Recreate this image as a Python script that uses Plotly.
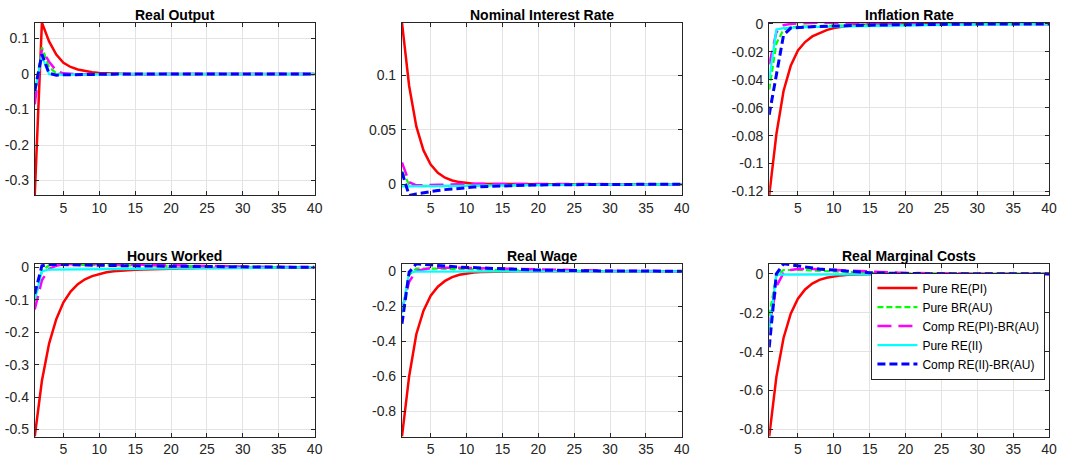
import plotly.graph_objects as go

# Impulse responses over 40 periods for five model variants
periods = list(range(1, 41))

series_names = ["Pure RE(PI)", "Pure BR(AU)", "Comp RE(PI)-BR(AU)", "Pure RE(II)", "Comp RE(II)-BR(AU)"]
panel_titles = ["Real Output", "Nominal Interest Rate", "Inflation Rate",
                "Hours Worked", "Real Wage", "Real Marginal Costs"]

# ---- Real Output ----
ro_pure_re_pi = [-0.342, 0.145, 0.092, 0.055, 0.032, 0.020, 0.013, 0.008, 0.005, 0.003,
                 0.002, 0.0012, 0.0008, 0.0005, 0.0003, 0.0002, 0.0001, 0.0, 0.0, 0.0,
                 0.0, 0.0, 0.0, 0.0, 0.0, 0.0, 0.0, 0.0, 0.0, 0.0,
                 0.0, 0.0, 0.0, 0.0, 0.0, 0.0, 0.0, 0.0, 0.0, 0.0]
ro_pure_br_au = [-0.060, 0.075, 0.020, 0.002, 0.0, -0.001, -0.0008, -0.0005, -0.0003, -0.0002,
                 -0.0001, 0.0, 0.0, 0.0, 0.0, 0.0, 0.0, 0.0, 0.0, 0.0,
                 0.0, 0.0, 0.0, 0.0, 0.0, 0.0, 0.0, 0.0, 0.0, 0.0,
                 0.0, 0.0, 0.0, 0.0, 0.0, 0.0, 0.0, 0.0, 0.0, 0.0]
ro_comp_re_pi = [-0.085, 0.068, 0.035, 0.009, 0.002, 0.0, -0.0005, -0.0003, -0.0002, -0.0001,
                 0.0, 0.0, 0.0, 0.0, 0.0, 0.0, 0.0, 0.0, 0.0, 0.0,
                 0.0, 0.0, 0.0, 0.0, 0.0, 0.0, 0.0, 0.0, 0.0, 0.0,
                 0.0, 0.0, 0.0, 0.0, 0.0, 0.0, 0.0, 0.0, 0.0, 0.0]
ro_pure_re_ii = [-0.050, 0.050, 0.0, -0.002, -0.002, -0.0015, -0.001, -0.001, -0.0005, -0.0003,
                 -0.0002, -0.0001, 0.0, 0.0, 0.0, 0.0, 0.0, 0.0, 0.0, 0.0,
                 0.0, 0.0, 0.0, 0.0, 0.0, 0.0, 0.0, 0.0, 0.0, 0.0,
                 0.0, 0.0, 0.0, 0.0, 0.0, 0.0, 0.0, 0.0, 0.0, 0.0]
ro_comp_re_ii = [-0.048, 0.056, 0.002, -0.003, -0.002, -0.0015, -0.001, -0.0008, -0.0005, -0.0003,
                 -0.0002, -0.0001, 0.0, 0.0, 0.0, 0.0, 0.0, 0.0, 0.0, 0.0,
                 0.0, 0.0, 0.0, 0.0, 0.0, 0.0, 0.0, 0.0, 0.0, 0.0,
                 0.0, 0.0, 0.0, 0.0, 0.0, 0.0, 0.0, 0.0, 0.0, 0.0]

# ---- Nominal Interest Rate ----
ni_pure_re_pi = [0.148, 0.090, 0.053, 0.031, 0.018, 0.0105, 0.006, 0.0035, 0.002, 0.0011,
                 0.0006, 0.0003, 0.0002, 0.0001, 0.0, 0.0, 0.0, 0.0, 0.0, 0.0,
                 0.0, 0.0, 0.0, 0.0, 0.0, 0.0, 0.0, 0.0, 0.0, 0.0,
                 0.0, 0.0, 0.0, 0.0, 0.0, 0.0, 0.0, 0.0, 0.0, 0.0]
ni_pure_br_au = [0.012, 0.0, -0.0015, -0.0018, -0.0018, -0.0017, -0.0016, -0.0015, -0.0014, -0.0013,
                 -0.0012, -0.0011, -0.001, -0.0009, -0.0008, -0.0007, -0.0006, -0.0005, -0.0005, -0.0004,
                 -0.0004, -0.0003, -0.0003, -0.0003, -0.0002, -0.0002, -0.0002, -0.0002, -0.0001, -0.0001,
                 -0.0001, -0.0001, -0.0001, 0.0, 0.0, 0.0, 0.0, 0.0, 0.0, 0.0]
ni_comp_re_pi = [0.020, 0.002, -0.001, -0.001, -0.0008, -0.0005, -0.0003, 0.0, 0.0002, 0.0003,
                 0.0004, 0.0004, 0.0004, 0.0004, 0.0003, 0.0003, 0.0003, 0.0002, 0.0002, 0.0002,
                 0.0002, 0.0001, 0.0001, 0.0001, 0.0001, 0.0001, 0.0, 0.0, 0.0, 0.0,
                 0.0, 0.0, 0.0, 0.0, 0.0, 0.0, 0.0, 0.0, 0.0, 0.0]
ni_pure_re_ii = [-0.002, -0.002, -0.002, -0.002, -0.0019, -0.0018, -0.0017, -0.0016, -0.0015, -0.0014,
                 -0.0013, -0.0012, -0.0011, -0.001, -0.0009, -0.0008, -0.0007, -0.0007, -0.0006, -0.0005,
                 -0.0005, -0.0004, -0.0004, -0.0003, -0.0003, -0.0003, -0.0002, -0.0002, -0.0002, -0.0002,
                 -0.0001, -0.0001, -0.0001, -0.0001, -0.0001, 0.0, 0.0, 0.0, 0.0, 0.0]
ni_comp_re_ii = [0.011, -0.0102, -0.0088, -0.0076, -0.0066, -0.0057, -0.0049, -0.0042, -0.0036, -0.0031,
                 -0.0026, -0.0022, -0.0019, -0.0016, -0.0013, -0.0011, -0.0009, -0.0008, -0.0007, -0.0006,
                 -0.0005, -0.0004, -0.0004, -0.0003, -0.0003, -0.0002, -0.0002, -0.0002, -0.0001, -0.0001,
                 -0.0001, -0.0001, -0.0001, 0.0, 0.0, 0.0, 0.0, 0.0, 0.0, 0.0]

# ---- Inflation Rate ----
inf_pure_re_pi = [-0.1228, -0.079, -0.048, -0.030, -0.019, -0.013, -0.009, -0.0065, -0.0045, -0.003,
                  -0.002, -0.0014, -0.001, -0.0007, -0.0005, -0.0003, -0.0002, -0.0001, 0.0, 0.0,
                  0.0, 0.0, 0.0, 0.0, 0.0, 0.0, 0.0, 0.0, 0.0, 0.0,
                  0.0, 0.0, 0.0, 0.0, 0.0, 0.0, 0.0, 0.0, 0.0, 0.0]
inf_pure_br_au = [-0.047, -0.014, -0.004, -0.0025, -0.002, -0.0018, -0.0016, -0.0015, -0.0014, -0.0013,
                  -0.0012, -0.0011, -0.001, -0.0009, -0.0009, -0.0008, -0.0007, -0.0007, -0.0006, -0.0006,
                  -0.0005, -0.0005, -0.0004, -0.0004, -0.0004, -0.0003, -0.0003, -0.0003, -0.0002, -0.0002,
                  -0.0002, -0.0002, -0.0001, -0.0001, -0.0001, -0.0001, -0.0001, 0.0, 0.0, 0.0]
inf_comp_re_pi = [-0.029, -0.006, -0.001, 0.0, 0.0004, 0.0007, 0.0009, 0.0009, 0.0008, 0.0007,
                  0.0006, 0.0005, 0.0004, 0.0004, 0.0003, 0.0003, 0.0002, 0.0002, 0.0002, 0.0001,
                  0.0001, 0.0001, 0.0001, 0.0, 0.0, 0.0, 0.0, 0.0, 0.0, 0.0,
                  0.0, 0.0, 0.0, 0.0, 0.0, 0.0, 0.0, 0.0, 0.0, 0.0]
inf_pure_re_ii = [-0.040, -0.004, -0.003, -0.0027, -0.0025, -0.0024, -0.0022, -0.0021, -0.002, -0.0019,
                  -0.0018, -0.0017, -0.0016, -0.0015, -0.0014, -0.0013, -0.0012, -0.0011, -0.001, -0.001,
                  -0.0009, -0.0008, -0.0008, -0.0007, -0.0007, -0.0006, -0.0006, -0.0005, -0.0005, -0.0004,
                  -0.0004, -0.0004, -0.0003, -0.0003, -0.0003, -0.0003, -0.0002, -0.0002, -0.0002, -0.0002]
inf_comp_re_ii = [-0.065, -0.037, -0.008, -0.003, -0.0025, -0.0022, -0.002, -0.0018, -0.0016, -0.0015,
                  -0.0013, -0.0012, -0.0011, -0.001, -0.0009, -0.0008, -0.0008, -0.0007, -0.0006, -0.0006,
                  -0.0005, -0.0005, -0.0004, -0.0004, -0.0003, -0.0003, -0.0003, -0.0002, -0.0002, -0.0002,
                  -0.0002, -0.0001, -0.0001, -0.0001, -0.0001, -0.0001, 0.0, 0.0, 0.0, 0.0]

# ---- Hours Worked ----
hw_pure_re_pi = [-0.522, -0.350, -0.235, -0.160, -0.108, -0.075, -0.052, -0.037, -0.027, -0.020,
                 -0.015, -0.012, -0.010, -0.0085, -0.0075, -0.0066, -0.0058, -0.0051, -0.0045, -0.004,
                 -0.0035, -0.0031, -0.0027, -0.0024, -0.0021, -0.0018, -0.0016, -0.0014, -0.0012, -0.001,
                 -0.0009, -0.0008, -0.0007, -0.0006, -0.0005, -0.0004, -0.0003, -0.0003, -0.0002, -0.0002]
hw_pure_br_au = [-0.105, -0.010, 0.006, 0.008, 0.008, 0.0078, 0.0075, 0.0072, 0.0068, 0.0064,
                 0.006, 0.0056, 0.0052, 0.0048, 0.0045, 0.0042, 0.0039, 0.0036, 0.0033, 0.003,
                 0.0028, 0.0026, 0.0024, 0.0022, 0.002, 0.0018, 0.0016, 0.0015, 0.0013, 0.0012,
                 0.0011, 0.001, 0.0009, 0.0008, 0.0007, 0.0006, 0.0005, 0.0004, 0.0004, 0.0003]
hw_comp_re_pi = [-0.130, -0.040, -0.005, 0.005, 0.009, 0.0105, 0.011, 0.011, 0.011, 0.0105,
                 0.010, 0.0095, 0.009, 0.0085, 0.008, 0.0075, 0.007, 0.0065, 0.006, 0.0055,
                 0.005, 0.0046, 0.0042, 0.0038, 0.0034, 0.0031, 0.0028, 0.0025, 0.0022, 0.002,
                 0.0018, 0.0016, 0.0014, 0.0012, 0.0011, 0.001, 0.0009, 0.0008, 0.0007, 0.0006]
hw_pure_re_ii = [-0.100, -0.012, -0.007, -0.007, -0.0069, -0.0068, -0.0067, -0.0066, -0.0064, -0.0062,
                 -0.006, -0.0058, -0.0056, -0.0053, -0.005, -0.0047, -0.0044, -0.0041, -0.0038, -0.0035,
                 -0.0032, -0.0029, -0.0026, -0.0023, -0.002, -0.0018, -0.0016, -0.0014, -0.0012, -0.001,
                 -0.0009, -0.0008, -0.0007, -0.0006, -0.0005, -0.0004, -0.0003, -0.0002, -0.0001, 0.0]
hw_comp_re_ii = [-0.082, 0.005, 0.009, 0.0088, 0.0085, 0.008, 0.0076, 0.0072, 0.0068, 0.0064,
                 0.006, 0.0056, 0.0052, 0.0048, 0.0045, 0.0042, 0.0039, 0.0036, 0.0033, 0.003,
                 0.0028, 0.0026, 0.0024, 0.0022, 0.002, 0.0018, 0.0016, 0.0015, 0.0013, 0.0012,
                 0.0011, 0.001, 0.0009, 0.0008, 0.0007, 0.0006, 0.0005, 0.0004, 0.0004, 0.0003]

# ---- Real Wage ----
rw_pure_re_pi = [-0.945, -0.600, -0.360, -0.225, -0.140, -0.088, -0.055, -0.033, -0.020, -0.012,
                 -0.007, -0.0045, -0.003, -0.002, -0.0013, -0.0008, -0.0005, -0.0003, -0.0002, -0.0001,
                 0.0, 0.0, 0.0, 0.0, 0.0, 0.0, 0.0, 0.0, 0.0, 0.0,
                 0.0, 0.0, 0.0, 0.0, 0.0, 0.0, 0.0, 0.0, 0.0, 0.0]
rw_pure_br_au = [-0.235, -0.020, 0.015, 0.016, 0.016, 0.015, 0.014, 0.013, 0.012, 0.011,
                 0.010, 0.009, 0.008, 0.007, 0.006, 0.0055, 0.005, 0.0045, 0.004, 0.0035,
                 0.003, 0.0027, 0.0024, 0.0021, 0.0018, 0.0016, 0.0014, 0.0012, 0.001, 0.0009,
                 0.0008, 0.0007, 0.0006, 0.0005, 0.0004, 0.0004, 0.0003, 0.0003, 0.0002, 0.0002]
rw_comp_re_pi = [-0.220, -0.060, 0.003, 0.012, 0.018, 0.020, 0.021, 0.021, 0.020, 0.019,
                 0.018, 0.017, 0.016, 0.015, 0.014, 0.013, 0.012, 0.011, 0.010, 0.009,
                 0.008, 0.007, 0.0062, 0.0055, 0.0048, 0.0042, 0.0037, 0.0032, 0.0028, 0.0024,
                 0.0021, 0.0018, 0.0015, 0.0013, 0.0011, 0.0009, 0.0008, 0.0007, 0.0006, 0.0005]
rw_pure_re_ii = [-0.240, -0.005, -0.002, -0.002, -0.0018, -0.0016, -0.0014, -0.0012, -0.001, -0.0009,
                 -0.0008, -0.0007, -0.0006, -0.0005, -0.0004, -0.0004, -0.0003, -0.0003, -0.0002, -0.0002,
                 -0.0002, -0.0001, -0.0001, -0.0001, -0.0001, 0.0, 0.0, 0.0, 0.0, 0.0,
                 0.0, 0.0, 0.0, 0.0, 0.0, 0.0, 0.0, 0.0, 0.0, 0.0]
rw_comp_re_ii = [-0.300, -0.005, 0.043, 0.039, 0.036, 0.033, 0.030, 0.027, 0.024, 0.022,
                 0.020, 0.018, 0.016, 0.014, 0.012, 0.011, 0.010, 0.009, 0.008, 0.007,
                 0.006, 0.005, 0.0045, 0.004, 0.0035, 0.003, 0.0027, 0.0024, 0.002, 0.0018,
                 0.0016, 0.0014, 0.0012, 0.001, 0.0009, 0.0008, 0.0007, 0.0006, 0.0005, 0.0004]

# ---- Real Marginal Costs ----
rmc_pure_re_pi = [-0.837, -0.530, -0.330, -0.205, -0.128, -0.080, -0.050, -0.031, -0.020, -0.012,
                  -0.0078, -0.005, -0.003, -0.002, -0.0012, -0.0008, -0.0005, -0.0003, -0.0002, -0.0001,
                  0.0, 0.0, 0.0, 0.0, 0.0, 0.0, 0.0, 0.0, 0.0, 0.0,
                  0.0, 0.0, 0.0, 0.0, 0.0, 0.0, 0.0, 0.0, 0.0, 0.0]
rmc_pure_br_au = [-0.215, -0.010, 0.020, 0.021, 0.020, 0.019, 0.017, 0.015, 0.013, 0.011,
                  0.0095, 0.008, 0.0068, 0.0057, 0.0048, 0.004, 0.0033, 0.0027, 0.0022, 0.0018,
                  0.0015, 0.0012, 0.001, 0.0008, 0.0007, 0.0006, 0.0005, 0.0004, 0.0003, 0.0003,
                  0.0002, 0.0002, 0.0002, 0.0001, 0.0001, 0.0001, 0.0001, 0.0, 0.0, 0.0]
rmc_comp_re_pi = [-0.270, -0.065, 0.005, 0.020, 0.025, 0.026, 0.025, 0.024, 0.022, 0.020,
                  0.018, 0.016, 0.014, 0.012, 0.0105, 0.009, 0.0078, 0.0067, 0.0057, 0.0048,
                  0.004, 0.0034, 0.0029, 0.0024, 0.002, 0.0017, 0.0014, 0.0012, 0.001, 0.0008,
                  0.0007, 0.0006, 0.0005, 0.0004, 0.0003, 0.0003, 0.0002, 0.0002, 0.0001, 0.0001]
rmc_pure_re_ii = [-0.290, -0.004, -0.004, -0.0038, -0.0035, -0.0032, -0.003, -0.0027, -0.0025, -0.0022,
                  -0.002, -0.0018, -0.0016, -0.0014, -0.0012, -0.001, -0.0009, -0.0008, -0.0007, -0.0006,
                  -0.0005, -0.0004, -0.0004, -0.0003, -0.0003, -0.0002, -0.0002, -0.0002, -0.0001, -0.0001,
                  -0.0001, -0.0001, 0.0, 0.0, 0.0, 0.0, 0.0, 0.0, 0.0, 0.0]
rmc_comp_re_ii = [-0.378, 0.0, 0.052, 0.046, 0.040, 0.034, 0.029, 0.025, 0.022, 0.019,
                  0.015, 0.012, 0.0095, 0.0075, 0.006, 0.0047, 0.0037, 0.0029, 0.0023, 0.0018,
                  0.0014, 0.0011, 0.0009, 0.0007, 0.0006, 0.0005, 0.0004, 0.0003, 0.0002, 0.0002,
                  0.0002, 0.0001, 0.0001, 0.0001, 0.0001, 0.0, 0.0, 0.0, 0.0, 0.0]

# Tick positions and labels per panel
x_tickvals = [5, 10, 15, 20, 25, 30, 35, 40]
ro_ticks = [-0.3, -0.2, -0.1, 0, 0.1]
ro_ticktext = ["-0.3", "-0.2", "-0.1", "0", "0.1"]
ni_ticks = [0, 0.05, 0.1]
ni_ticktext = ["0", "0.05", "0.1"]
inf_ticks = [-0.12, -0.1, -0.08, -0.06, -0.04, -0.02, 0]
inf_ticktext = ["-0.12", "-0.1", "-0.08", "-0.06", "-0.04", "-0.02", "0"]
hw_ticks = [-0.5, -0.4, -0.3, -0.2, -0.1, 0]
hw_ticktext = ["-0.5", "-0.4", "-0.3", "-0.2", "-0.1", "0"]
rw_ticks = [-0.8, -0.6, -0.4, -0.2, 0]
rw_ticktext = ["-0.8", "-0.6", "-0.4", "-0.2", "0"]
rmc_ticks = [-0.8, -0.6, -0.4, -0.2, 0]
rmc_ticktext = ["-0.8", "-0.6", "-0.4", "-0.2", "0"]

panels = [
    ([ro_pure_re_pi, ro_pure_br_au, ro_comp_re_pi, ro_pure_re_ii, ro_comp_re_ii], ro_ticks, ro_ticktext),
    ([ni_pure_re_pi, ni_pure_br_au, ni_comp_re_pi, ni_pure_re_ii, ni_comp_re_ii], ni_ticks, ni_ticktext),
    ([inf_pure_re_pi, inf_pure_br_au, inf_comp_re_pi, inf_pure_re_ii, inf_comp_re_ii], inf_ticks, inf_ticktext),
    ([hw_pure_re_pi, hw_pure_br_au, hw_comp_re_pi, hw_pure_re_ii, hw_comp_re_ii], hw_ticks, hw_ticktext),
    ([rw_pure_re_pi, rw_pure_br_au, rw_comp_re_pi, rw_pure_re_ii, rw_comp_re_ii], rw_ticks, rw_ticktext),
    ([rmc_pure_re_pi, rmc_pure_br_au, rmc_comp_re_pi, rmc_pure_re_ii, rmc_comp_re_ii], rmc_ticks, rmc_ticktext),
]

# Line styles per model variant
line_styles = [
    dict(color="#ff0000", width=2.5, dash="solid"),
    dict(color="#00ff00", width=2.2, dash="6px,3px"),
    dict(color="#ff00ff", width=2.5, dash="14px,7px"),
    dict(color="#00ffff", width=2.2, dash="solid"),
    dict(color="#0000ff", width=3.0, dash="8px,4px"),
]

W, H = 1069, 464
x_domains_px = [(35, 317), (405, 687), (775, 1057)]
y_domains_px = [(16, 193), (263, 440)]

FONT = "Liberation Sans, Arial, Helvetica, sans-serif"
AX_COLOR = "#262626"
GRID_COLOR = "#e3e3e3"

fig = go.Figure()
layout_updates = {}

for i, (series, yticks, yticktext) in enumerate(panels):
    row, col = divmod(i, 3)
    idx = "" if i == 0 else str(i + 1)
    xname, yname = "x" + idx, "y" + idx
    for k, vals in enumerate(series):
        fig.add_trace(go.Scatter(
            x=periods, y=vals, mode="lines", name=series_names[k],
            line=line_styles[k], xaxis=xname, yaxis=yname,
            showlegend=(i == 5), legendgroup=series_names[k],
        ))
    ymin = min(min(v) for v in series)
    ymax = max(max(v) for v in series)
    x0, x1 = x_domains_px[col]
    top, bottom = y_domains_px[row]
    common = dict(
        showline=True, linecolor=AX_COLOR, linewidth=1, mirror="ticks",
        ticks="inside", ticklen=4, tickcolor=AX_COLOR, tickwidth=1,
        showgrid=True, gridcolor=GRID_COLOR, gridwidth=1, zeroline=False,
        tickfont=dict(family=FONT, size=14, color=AX_COLOR),
    )
    layout_updates["xaxis" + idx] = dict(
        common, domain=[x0 / W, x1 / W], range=[1, 40],
        tickvals=x_tickvals, ticktext=[str(v) for v in x_tickvals], anchor=yname,
    )
    layout_updates["yaxis" + idx] = dict(
        common, domain=[1 - bottom / H, 1 - top / H], range=[ymin, ymax],
        tickvals=yticks, ticktext=yticktext, anchor=xname, ticklabelstandoff=2,
    )
    fig.add_annotation(
        text="<b>" + panel_titles[i] + "</b>", xref="paper", yref="paper",
        x=(x0 + x1) / 2 / W, y=1 - (top - 8) / H, xanchor="center", yanchor="middle",
        showarrow=False, font=dict(family=FONT, size=14, color="#000000"),
    )

fig.update_layout(
    **layout_updates,
    width=W, height=H,
    margin=dict(l=0, r=0, t=0, b=0),
    paper_bgcolor="white", plot_bgcolor="white",
    showlegend=True,
    legend=dict(
        x=878 / W, y=1 - 272 / H, xanchor="left", yanchor="top",
        bgcolor="white", bordercolor=AX_COLOR, borderwidth=1,
        font=dict(family=FONT, size=12, color="#000000"),
        tracegroupgap=0, itemwidth=40,
    ),
)

fig.write_html("out.html")
